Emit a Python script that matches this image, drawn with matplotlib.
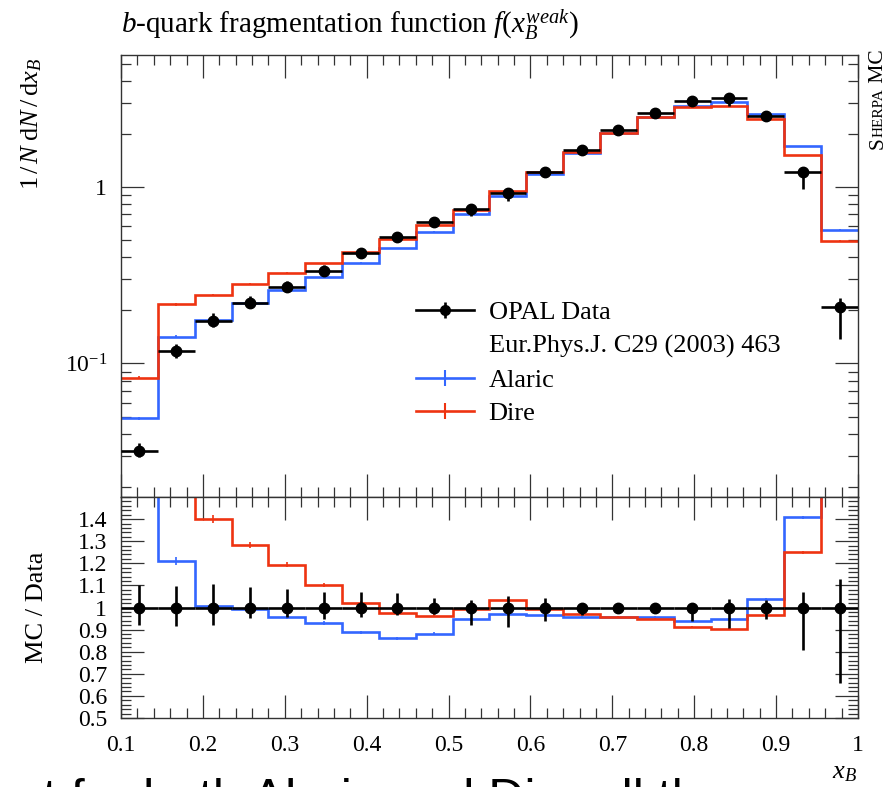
import numpy as np
import matplotlib
matplotlib.use('Agg')
import matplotlib.pyplot as plt
from matplotlib.ticker import FixedLocator, MultipleLocator, LogLocator, FuncFormatter, NullFormatter
from matplotlib.lines import Line2D

# ---------------- data ----------------
bin_edges = np.linspace(0.1, 1.0, 21)
opal_data = [0.032, 0.1175, 0.175, 0.220, 0.272, 0.335, 0.42, 0.522, 0.633, 0.747,
             0.92, 1.22, 1.62, 2.11, 2.62, 3.09, 3.19, 2.51, 1.21, 0.209]
opal_err_up = [0.10, 0.097, 0.106, 0.095, 0.083, 0.072, 0.072, 0.065, 0.041, 0.035,
               0.053, 0.045, 0.020, 0.012, 0.012, 0.012, 0.039, 0.035, 0.069, 0.131]
opal_err_dn = [0.08, 0.083, 0.078, 0.048, 0.044, 0.053, 0.041, 0.036, 0.029, 0.078,
               0.090, 0.063, 0.033, 0.012, 0.012, 0.063, 0.094, 0.051, 0.193, 0.342]
alaric = [0.049, 0.142, 0.1765, 0.219, 0.260, 0.311, 0.3725, 0.449, 0.558, 0.707,
          0.893, 1.181, 1.552, 2.021, 2.502, 2.895, 3.021, 2.605, 1.703, 0.57]
dire = [0.083, 0.216, 0.245, 0.2825, 0.3245, 0.369, 0.428, 0.509, 0.609, 0.743,
        0.953, 1.213, 1.576, 2.023, 2.486, 2.824, 2.877, 2.420, 1.512, 0.495]
mc_err_rel = [0.02, 0.015, 0.012, 0.011, 0.010, 0.009, 0.008, 0.008, 0.007, 0.007,
              0.006, 0.006, 0.005, 0.005, 0.005, 0.005, 0.005, 0.005, 0.006, 0.010]

BLUE = '#3366FF'
RED = '#EE3311'

plt.rcParams['font.family'] = ['Liberation Serif', 'DejaVu Serif']
plt.rcParams['mathtext.fontset'] = 'custom'
plt.rcParams['mathtext.rm'] = 'Liberation Serif'
plt.rcParams['mathtext.it'] = 'Liberation Serif:italic'
plt.rcParams['mathtext.bf'] = 'Liberation Serif:bold'

W, H = 892, 787
fig = plt.figure(figsize=(W / 100, H / 100), dpi=100)
L, R = 121 / W, 858 / W
ax = fig.add_axes([L, 1 - 497 / H, R - L, (497 - 55) / H])
rax = fig.add_axes([L, 1 - 718 / H, R - L, (718 - 497) / H], sharex=ax)

edges = np.asarray(bin_edges)
centers = 0.5 * (edges[:-1] + edges[1:])
half = 0.5 * np.diff(edges)
d = np.asarray(opal_data)
eu = np.asarray(opal_err_up)
ed = np.asarray(opal_err_dn)
al = np.asarray(alaric)
di = np.asarray(dire)
me = np.asarray(mc_err_rel)

LW = 1.9
# ---------------- main panel ----------------
for vals, col in [(al, BLUE), (di, RED)]:
    ax.stairs(vals, edges, baseline=None, color=col, lw=LW, zorder=2)
    ax.errorbar(centers, vals, yerr=vals * me, fmt='none', ecolor=col, elinewidth=1.2, zorder=2)
ax.errorbar(centers, d, xerr=half, yerr=[d * ed, d * eu], fmt='o', color='k', ms=7.5,
            elinewidth=LW, capsize=0, zorder=3)
ax.set_yscale('log')
ax.set_ylim(0.0175, 5.6)
ax.set_xlim(0.1, 1.0)
ax.yaxis.set_major_locator(FixedLocator([0.01, 0.1, 1.0, 10.0]))
ax.yaxis.set_minor_locator(LogLocator(base=10, subs=np.arange(2, 10)))
ax.yaxis.set_minor_formatter(NullFormatter())


def yfmt(v, p):
    if abs(v - 1) < 1e-9:
        return '1'
    if abs(v - 0.1) < 1e-9:
        return r'$10^{-1}$'
    return ''


ax.yaxis.set_major_formatter(FuncFormatter(yfmt))

# ---------------- ratio panel ----------------
for vals, col in [(al, BLUE), (di, RED)]:
    r = vals / d
    rax.stairs(r, edges, baseline=None, color=col, lw=LW, zorder=2)
    rax.errorbar(centers, r, yerr=r * me, fmt='none', ecolor=col, elinewidth=1.2, zorder=2)
rax.errorbar(centers, np.ones_like(d), xerr=half, yerr=[ed, eu], fmt='o', color='k', ms=7.5,
             elinewidth=LW, capsize=0, zorder=3)
rax.set_ylim(0.5, 1.5)
rax.set_xlim(0.1, 1.0)
rax.yaxis.set_major_locator(FixedLocator(np.round(np.arange(0.5, 1.41, 0.1), 2)))
rax.yaxis.set_minor_locator(MultipleLocator(0.02))
rax.yaxis.set_major_formatter(FuncFormatter(lambda v, p: '%g' % round(v, 2)))
rax.xaxis.set_major_locator(MultipleLocator(0.1))
rax.xaxis.set_minor_locator(MultipleLocator(0.02))
rax.xaxis.set_major_formatter(FuncFormatter(lambda v, p: '%g' % round(v, 2)))

for a in (ax, rax):
    a.tick_params(which='major', direction='in', length=16.5, width=0.9, top=True, right=True,
                  labelsize=17, pad=10, color='#333333')
    a.tick_params(which='minor', direction='in', length=7, width=0.9, top=True, right=True,
                  color='#333333')
    for s in a.spines.values():
        s.set_linewidth(1.0)
        s.set_color('#333333')
ax.tick_params(axis='x', labelbottom=False)
rax.tick_params(axis='x', pad=12)

# ---------------- legend ----------------
h_data = (Line2D([], [], color='k', lw=LW),
          Line2D([], [], color='k', marker='|', ms=12, mew=LW, ls='none'),
          Line2D([], [], color='k', marker='o', ms=7, ls='none'))
h_ref = Line2D([], [], color='none')
h_al = (Line2D([], [], color=BLUE, lw=LW),
        Line2D([], [], color=BLUE, marker='|', ms=12, mew=1.5, ls='none'))
h_di = (Line2D([], [], color=RED, lw=LW),
        Line2D([], [], color=RED, marker='|', ms=12, mew=1.5, ls='none'))
ax.legend([h_data, h_ref, h_al, h_di],
          ['OPAL Data', 'Eur.Phys.J. C29 (2003) 463', 'Alaric', 'Dire'],
          loc='upper left', bbox_to_anchor=(416 / W, 1 - 301 / H), bbox_transform=fig.transFigure,
          frameon=False, fontsize=19, handlelength=2.2, handletextpad=0.55,
          labelspacing=0.38, borderpad=0, borderaxespad=0)

# ---------------- labels ----------------
fig.text(121 / W, 1 - 25 / H, r'$b$-quark fragmentation function $f(x_B^{weak})$',
         ha='left', va='center', fontsize=21)
fig.text(32 / W, 1 - 58 / H, r'$1\,/\,N\;\mathrm{d}N\,/\,\mathrm{d}x_B$', rotation=90,
         ha='center', va='top', fontsize=19)
fig.text(37 / W, 1 - 607 / H, 'MC / Data', rotation=90, ha='center', va='center', fontsize=19)
fig.text(857 / W, 1 - 773 / H, r'$x_B$', ha='right', va='center', fontsize=19)

# "Sherpa MC" in small caps, rotated
fig.canvas.draw()
renderer = fig.canvas.get_renderer()
pieces = [('S', 15.5), ('HERPA', 11), (' MC', 15.5)]
ypix = H - 149
xb = 883 / W
for txt, fs in pieces:
    t = fig.text(xb, ypix / H, txt, rotation=90, rotation_mode='anchor', ha='left',
                 va='baseline', fontsize=fs)
    bb = t.get_window_extent(renderer)
    ypix += bb.height

# cut-off slide text at the bottom
fig.text(43 / W, (H - 814) / H, 't for both Alaric and Dire all the curves do',
         ha='left', va='baseline', fontsize=36, family=['Liberation Sans', 'DejaVu Sans'])

fig.savefig('out.png', dpi=100)
